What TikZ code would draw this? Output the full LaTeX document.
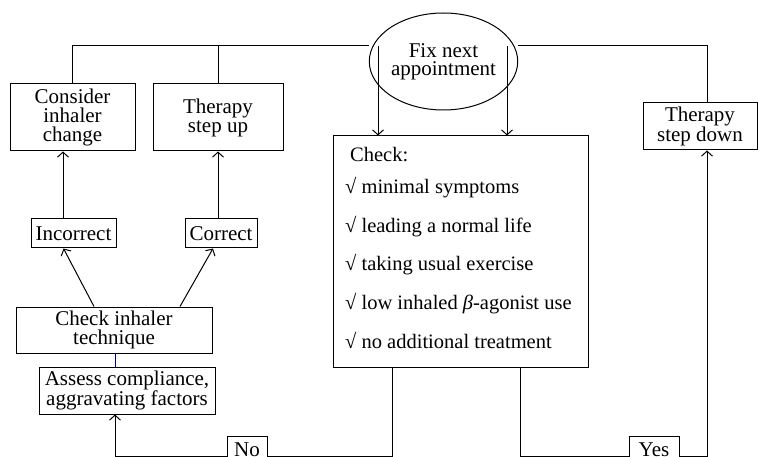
\documentclass[tikz,border=0pt]{standalone}
\usepackage{fontspec}
\setmainfont{Liberation Serif}
\usetikzlibrary{shapes.geometric,arrows.meta}
\begin{document}
\begin{tikzpicture}[x=1pt,y=-1pt,
  box/.style={draw, line width=1pt, rectangle, inner sep=0pt, align=center, fill=white,
    font=\fontsize{21}{19}\selectfont},
  item/.style={inner sep=0pt, anchor=base west, font=\fontsize{20.5}{24}\selectfont},
  conn/.style={line width=1pt},
  arr/.style={conn, -{Straight Barb[length=5pt,width=11pt]}}]
\useasboundingbox (0,0) rectangle (758,457);

% nodes
\node[draw, line width=1pt, ellipse, minimum width=127, minimum height=97, inner sep=0pt,
  align=center, font=\fontsize{21}{19}\selectfont] (fix) at (443.5,61.5) {Fix next\\[-1pt]appointment};
\node[box, minimum width=125, minimum height=67] (cons) at (72.5,117.5) {Consider\\inhaler\\change};
\node[box, minimum width=130, minimum height=67] (up) at (218,117.5) {Therapy\\step up};
\node[box, minimum width=114, minimum height=47] (down) at (700,126.5) {Therapy\\step down};
\node[box, minimum width=85, minimum height=29] (incor) at (73.5,233.5) {Incorrect};
\node[box, minimum width=72, minimum height=29] (corr) at (221,233.5) {Correct};
\node[box, minimum width=196, minimum height=46] (tech) at (114,330) {Check inhaler\\technique};
\node[box, minimum width=176, minimum height=47] (assess) at (127,390.5) {Assess compliance,\\aggravating factors};
\node[box, minimum width=255, minimum height=231] (check) at (460.5,251.5) {};
\node[item] (l0) at (350,161.7) {Check:};
\node[item] (l1) at (345,194) {√ minimal symptoms};
\node[item] (l2) at (345,232.5) {√ leading a normal life};
\node[item] (l3) at (345,271) {√ taking usual exercise};
\node[item] (l4) at (345,309.5) {√ low inhaled \textit{β}-agonist use};
\node[item] (l5) at (345,348) {√ no additional treatment};

% junction coordinates
\coordinate (ja) at (378,46);
\coordinate (jl) at (63,46);
\coordinate (jb) at (507,46);
\coordinate (jr) at (707,46);
\coordinate (bl) at (115,456);
\coordinate (bn) at (392,456);
\coordinate (by) at (520,456);
\coordinate (br) at (707,456);
\coordinate (mt) at (115,353);

% top connectors
\draw[conn] (cons.north) -- (cons.north |- jl) -- (fix.west |- ja);
\draw[conn] (up.north) -- (up.north |- ja);
\draw[arr] (ja) -- (ja |- check.north);
\draw[conn] (fix.east |- jb) -- (jr) -- (jr |- down.north);
\draw[arr] (jb) -- (jb |- check.north);

% left branch
\draw[arr] ([xshift=-10.5pt]incor.north) -- ([xshift=-10.5pt]incor.north |- cons.south);
\draw[arr] (up.south |- corr.north) -- (up.south);
\draw[arr] ([xshift=-20pt]tech.north) -- ([xshift=-10pt]incor.south);
\draw[arr] ([xshift=66pt]tech.north) -- ([xshift=-8pt]corr.south);
\draw[line width=0.8pt, blue!45!black] (mt) -- (mt |- assess.north);

% bottom loop
\draw[arr] (bn |- check.south) -- (bn) -- (bl) -- (bl |- assess.south);
\draw[arr] (by |- check.south) -- (by) -- (br) -- (br |- down.south);
\node[box, minimum width=40, minimum height=28, text depth=0pt] (no) at (247,450) {\raisebox{1.5pt}{No}};
\node[box, minimum width=50, minimum height=28, text depth=0pt] (yes) at (654,450) {\raisebox{1.5pt}{Yes}};
\end{tikzpicture}
\end{document}
